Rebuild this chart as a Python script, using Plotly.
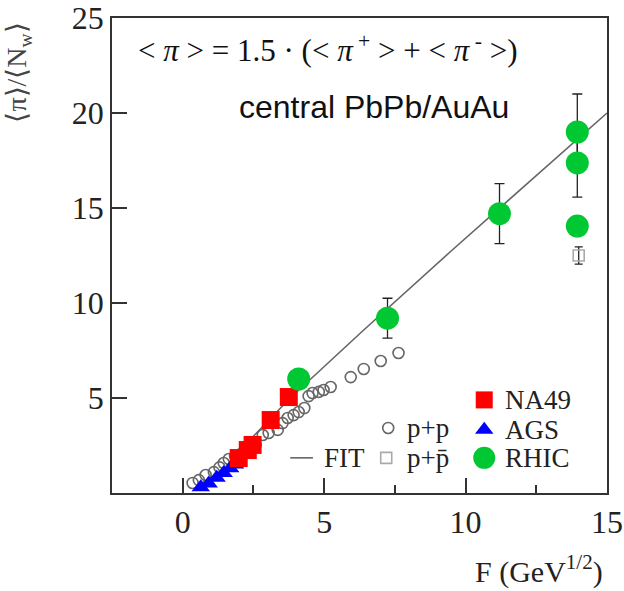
import plotly.graph_objects as go

# ---------------- data ----------------
pp_x = [0.35, 0.57, 0.81, 1.10, 1.30, 1.45, 1.63, 1.85, 2.10, 2.40, 2.58, 2.83, 3.04,
        3.36, 3.53, 3.71, 3.92, 4.10, 4.30, 4.45, 4.59, 4.81, 4.98, 5.23, 5.94, 6.40, 7.00, 7.63]
pp_y = [0.53, 0.68, 0.95, 1.10, 1.35, 1.58, 1.79, 1.95, 2.10, 2.26, 2.53, 3.05, 3.16,
        3.32, 3.68, 3.95, 4.10, 4.26, 4.47, 5.10, 5.26, 5.32, 5.42, 5.58, 6.10, 6.53, 6.95, 7.37]

ppbar_x = [14.0]
ppbar_y = [12.5]
ppbar_err = [0.45]

na49_x = [1.98, 2.30, 2.47, 3.11, 3.75]
na49_y = [1.84, 2.26, 2.53, 3.84, 5.05]

ags_x = [0.64, 0.92, 1.20, 1.45, 1.68, 1.85]
ags_y = [0.30, 0.50, 0.80, 1.05, 1.30, 1.50]

rhic_x = [4.10, 7.24, 11.20, 13.95, 13.95, 13.95]
rhic_y = [6.00, 9.20, 14.70, 19.00, 17.37, 14.05]
rhic_err = [0.0, 1.05, 1.58, 2.00, 1.80, 0.0]

fit_x = [1.8, 3.8, 6.4, 9.5, 15.0]
fit_y = [1.9, 5.0, 8.58, 12.75, 20.0]

x_ticks = [0, 5, 10, 15]
y_ticks = [5, 10, 15, 20, 25]

SERIF = "Liberation Serif, Times New Roman, serif"
SANS = "Liberation Sans, Arial, sans-serif"

GREEN = "#00c832"
GRAY = "#666666"

fig = go.Figure()

fig.add_trace(go.Scatter(x=fit_x, y=fit_y, mode="lines",
                         line=dict(color=GRAY, width=1.6), showlegend=False))
fig.add_trace(go.Scatter(x=pp_x, y=pp_y, mode="markers",
                         marker=dict(symbol="circle-open", size=11, color=GRAY,
                                     line=dict(width=1.6, color=GRAY)), showlegend=False))
fig.add_trace(go.Scatter(x=ppbar_x, y=ppbar_y, mode="markers",
                         error_y=dict(type="data", array=ppbar_err, color="#222", thickness=1.3, width=4),
                         marker=dict(symbol="square-open", size=11, color="#aaaaaa",
                                     line=dict(width=1.6, color="#aaaaaa")), showlegend=False))
fig.add_trace(go.Scatter(x=ags_x, y=ags_y, mode="markers",
                         marker=dict(symbol="triangle-up", size=16, color="#0000ff"), showlegend=False))
fig.add_trace(go.Scatter(x=na49_x, y=na49_y, mode="markers",
                         marker=dict(symbol="square", size=18, color="#ff0000"), showlegend=False))
fig.add_trace(go.Scatter(x=rhic_x, y=rhic_y, mode="markers",
                         error_y=dict(type="data", array=rhic_err, color="#222", thickness=1.3, width=5),
                         marker=dict(symbol="circle", size=23, color=GREEN), showlegend=False))

# ---------------- custom legend (overlay axis in plot-fraction units) ----------------
leg = dict(xaxis="x2", yaxis="y2", showlegend=False, hoverinfo="skip")
fig.add_trace(go.Scatter(x=[0.752], y=[0.196], mode="markers",
                         marker=dict(symbol="square", size=17, color="#ff0000"), **leg))
fig.add_trace(go.Scatter(x=[0.752], y=[0.133], mode="markers",
                         marker=dict(symbol="triangle-up", size=16, color="#0000ff"), **leg))
fig.add_trace(go.Scatter(x=[0.752], y=[0.074], mode="markers",
                         marker=dict(symbol="circle", size=22, color=GREEN), **leg))
fig.add_trace(go.Scatter(x=[0.558], y=[0.137], mode="markers",
                         marker=dict(symbol="circle-open", size=11, color=GRAY,
                                     line=dict(width=1.6, color=GRAY)), **leg))
fig.add_trace(go.Scatter(x=[0.554], y=[0.074], mode="markers",
                         marker=dict(symbol="square-open", size=11, color="#aaaaaa",
                                     line=dict(width=1.6, color="#aaaaaa")), **leg))
fig.add_trace(go.Scatter(x=[0.360, 0.406], y=[0.074, 0.074], mode="lines",
                         line=dict(color=GRAY, width=1.6), **leg))

axis_common = dict(showline=True, linecolor="#333", linewidth=1.5, mirror=True,
                   ticks="inside", tickcolor="#333", tickwidth=1.5, ticklen=15,
                   showgrid=False, zeroline=False, automargin=False,
                   tickfont=dict(family=SERIF, size=32, color="#222"))

fig.update_layout(
    width=624, height=591,
    margin=dict(l=112, r=17, t=18, b=98, autoexpand=False),
    paper_bgcolor="white", plot_bgcolor="white",
    xaxis=dict(range=[-2.5, 15], tickvals=x_ticks,
               minor=dict(ticks="inside", ticklen=8, dtick=2.5, tickcolor="#333", tickwidth=1.5),
               **axis_common),
    yaxis=dict(range=[0, 25], tickvals=y_ticks, **axis_common),
    xaxis2=dict(overlaying="x", range=[0, 1], visible=False),
    yaxis2=dict(overlaying="y", range=[0, 1], visible=False),
)

sp = "&nbsp;"
formula = ("&lt;" + sp + "<i>π</i>" + sp + "&gt;" + sp + "=" + sp + "1.5" + sp + "·" + sp +
           "(&lt;" + sp + "<i>π</i><sup>" + sp + "+</sup>" + sp + "&gt;" + sp + "+" + sp +
           "&lt;" + sp + "<i>π</i><sup>" + sp + "-</sup>" + sp + "&gt;)")

ann = []
ann.append(dict(x=0.048, y=0.935, xref="paper", yref="paper", xanchor="left", yanchor="middle",
                text=formula, showarrow=False, font=dict(family=SERIF, size=31, color="#111")))
ann.append(dict(x=0.2525, y=0.813, xref="paper", yref="paper", xanchor="left", yanchor="middle",
                text="central PbPb/AuAu", showarrow=False,
                font=dict(family=SANS, size=32, color="#111")))
ann.append(dict(x=-0.188, y=0.885, xref="paper", yref="paper", xanchor="center", yanchor="middle",
                text="⟨π⟩/⟨N<sub>w</sub>⟩", textangle=-90, showarrow=False,
                font=dict(family=SERIF, size=28, color="#444")))
ann.append(dict(x=0.996, y=-0.162, xref="paper", yref="paper", xanchor="right", yanchor="middle",
                text="F (GeV<sup>1/2</sup>)", showarrow=False,
                font=dict(family=SERIF, size=30, color="#222")))
for txt, xx, yy in [("NA49", 0.790, 0.196), ("AGS", 0.790, 0.133), ("RHIC", 0.790, 0.074),
                    ("p+p", 0.592, 0.137), ("p+p̄", 0.592, 0.074), ("FIT", 0.424, 0.074)]:
    ann.append(dict(x=xx, y=yy, xref="paper", yref="paper", xanchor="left", yanchor="middle",
                    text=txt, showarrow=False, font=dict(family=SERIF, size=27, color="#222")))
fig.update_layout(annotations=ann)

fig.write_html("out.html")
